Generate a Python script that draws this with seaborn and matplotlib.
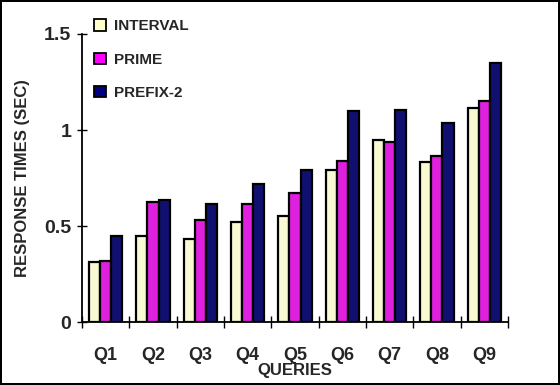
import matplotlib
matplotlib.use("Agg")
import matplotlib.pyplot as plt
from matplotlib.patches import Patch
import seaborn as sns
import pandas as pd

# Response times per query for the three labelling schemes
queries = ["Q1", "Q2", "Q3", "Q4", "Q5", "Q6", "Q7", "Q8", "Q9"]
schemes = ["INTERVAL", "PRIME", "PREFIX-2"]
interval = [0.31, 0.45, 0.43, 0.52, 0.55, 0.79, 0.95, 0.835, 1.115]
prime = [0.32, 0.625, 0.53, 0.615, 0.67, 0.84, 0.94, 0.865, 1.15]
prefix2 = [0.45, 0.635, 0.615, 0.72, 0.79, 1.10, 1.105, 1.035, 1.35]
y_ticks = [0, 0.5, 1, 1.5]
y_tick_labels = ["0", "0.5", "1", "1.5"]
colors = ["#FFFFCC", "#FF00FF", "#000080"]

df = pd.DataFrame({
    "query": queries * 3,
    "scheme": [schemes[0]] * 9 + [schemes[1]] * 9 + [schemes[2]] * 9,
    "time": interval + prime + prefix2,
})

sns.set_theme(style="white")
plt.rcParams["font.family"] = ["Liberation Sans", "DejaVu Sans"]
plt.rcParams["font.weight"] = "bold"

fig = plt.figure(figsize=(5.6, 3.85), dpi=100)
fig.patch.set_facecolor("white")
fig.patch.set_edgecolor("black")
fig.patch.set_linewidth(1.5)
ax = fig.add_axes([0.1464, 0.1636, 0.7607, 0.7481])

sns.barplot(data=df, x="query", y="time", hue="scheme", order=queries,
            hue_order=schemes, palette=colors, width=0.7, edgecolor="black",
            linewidth=1.6, errorbar=None, legend=False, ax=ax)

ax.set_xlim(-0.5, len(queries) - 0.5)
ax.set_ylim(0, 1.5)
ax.set_yticks(y_ticks)
ax.set_yticklabels(y_tick_labels, fontsize=14, fontweight="bold")
ax.set_xticks(range(len(queries)))
ax.set_xticklabels(queries, fontsize=13, fontweight="bold")
ax.set_xticks([i - 0.5 for i in range(len(queries) + 1)], minor=True)
ax.tick_params(axis="x", which="major", length=0, pad=18)
ax.tick_params(axis="x", which="minor", direction="inout", length=8,
               width=1, color="black", bottom=True)
ax.tick_params(axis="y", which="major", direction="inout", length=7.5,
               width=1, color="black", left=True, pad=4)

for side in ("top", "right"):
    ax.spines[side].set_visible(False)
for side in ("left", "bottom"):
    ax.spines[side].set_color("black")
    ax.spines[side].set_linewidth(1.3)

ax.set_xlabel("QUERIES", fontsize=12, fontweight="bold", labelpad=-1)
ax.set_ylabel("RESPONSE TIMES (SEC)", fontsize=12, fontweight="bold",
              labelpad=10)
ax.grid(False)

handles = [Patch(facecolor=c, edgecolor="black", linewidth=1.3) for c in colors]
fig.legend(handles, schemes, loc="upper left",
           bbox_to_anchor=(0.168, 0.95), frameon=False,
           prop={"weight": "bold", "size": 11}, handlelength=0.8,
           handleheight=0.8, handletextpad=0.5, labelspacing=1.25,
           borderpad=0, borderaxespad=0)

fig.savefig("out.png", dpi=100, facecolor=fig.get_facecolor(),
            edgecolor=fig.get_edgecolor())
